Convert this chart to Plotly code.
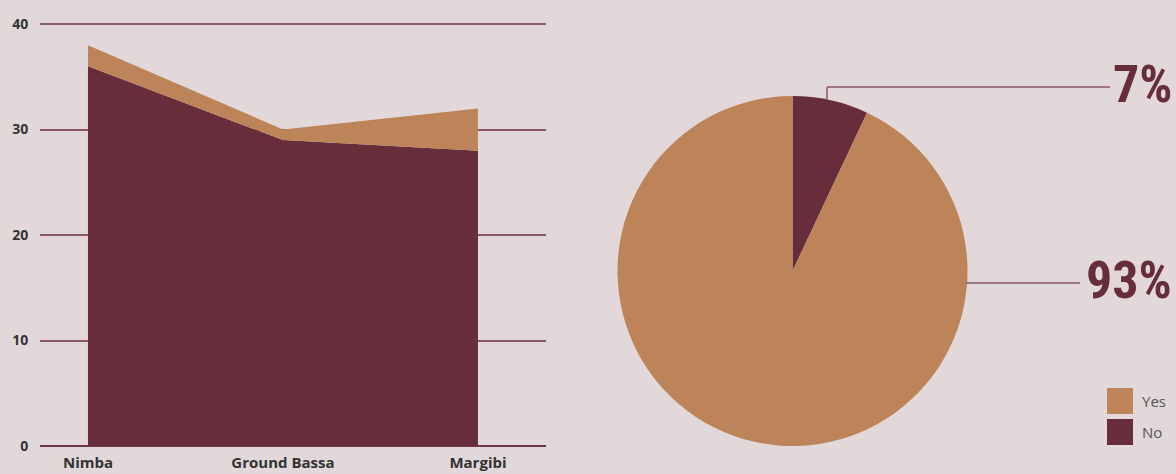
import plotly.graph_objects as go

counties = ["Nimba", "Ground Bassa", "Margibi"]
no_vals = [36, 29, 28]
yes_vals = [2, 1, 4]
pie_labels = ["No", "Yes"]
pie_values = [7, 93]
y_ticks = [0, 10, 20, 30, 40]

BG = "#e2d8da"
MAROON = "#672d3b"
TAN = "#bc8458"
GRID = "#8a5868"

W, H = 1176, 474
def px(x):
    return x / W
def py(y):
    return 1 - y / H

fig = go.Figure()
xpos = list(range(len(counties)))
fig.add_trace(go.Scatter(x=xpos, y=no_vals, name="No", stackgroup="s", mode="lines",
                         line=dict(width=0, color=MAROON), fillcolor=MAROON, showlegend=False,
                         hoverinfo="skip"))
fig.add_trace(go.Scatter(x=xpos, y=yes_vals, name="Yes", stackgroup="s", mode="lines",
                         line=dict(width=0, color=TAN), fillcolor=TAN, showlegend=False,
                         hoverinfo="skip"))

fig.add_trace(go.Pie(labels=pie_labels, values=pie_values, sort=False, direction="clockwise",
                     rotation=0, marker=dict(colors=[MAROON, TAN], line=dict(width=0)),
                     textinfo="none", showlegend=False,
                     domain=dict(x=[px(617), px(968)], y=[py(446), py(96)])))

fig.update_layout(
    width=W, height=H,
    paper_bgcolor=BG, plot_bgcolor=BG,
    margin=dict(l=0, r=0, t=0, b=0, autoexpand=False),
    xaxis=dict(domain=[px(40), px(546)], range=[-0.246, 2.349], tickvals=xpos, ticktext=counties,
               automargin=False,
               showgrid=False, zeroline=False, showline=False, ticks="outside", ticklen=3,
               tickcolor="rgba(0,0,0,0)",
               tickfont=dict(family="Open Sans", size=15, color="#333333", weight="bold")),
    yaxis=dict(domain=[py(446), py(23)], range=[0, 40.1], tickvals=y_ticks, automargin=False,
               showgrid=True, gridcolor=GRID, gridwidth=1.5, zeroline=True,
               zerolinecolor="#6e3445", zerolinewidth=1.5, showline=False, ticks="outside",
               ticklen=8, tickcolor="rgba(0,0,0,0)",
               tickfont=dict(family="Open Sans", size=14, color="#333333", weight="bold")),
    font=dict(family="Open Sans"),
)

# leader lines for pie labels
fig.add_shape(type="line", xref="paper", yref="paper", x0=px(827), y0=py(100), x1=px(827), y1=py(87),
              line=dict(color=GRID, width=1.5))
fig.add_shape(type="line", xref="paper", yref="paper", x0=px(827), y0=py(87), x1=px(1110), y1=py(87),
              line=dict(color=GRID, width=1.5))
fig.add_shape(type="line", xref="paper", yref="paper", x0=px(966), y0=py(283), x1=px(1080), y1=py(283),
              line=dict(color=GRID, width=1.5))

pct_font = dict(family="Roboto Condensed, Liberation Sans Narrow, DejaVu Sans Condensed, DejaVu Sans",
                size=52, color=MAROON, weight="bold")
fig.add_annotation(xref="paper", yref="paper", x=px(1174), y=py(84), text=f"{pie_values[0]}%",
                   showarrow=False, xanchor="right", yanchor="middle", font=pct_font)
fig.add_annotation(xref="paper", yref="paper", x=px(1174), y=py(280), text=f"{pie_values[1]}%",
                   showarrow=False, xanchor="right", yanchor="middle", font=pct_font)

# legend
for i, (lab, col) in enumerate([("Yes", TAN), ("No", MAROON)]):
    top = 388 + i * 31
    fig.add_shape(type="rect", xref="paper", yref="paper", x0=px(1107), x1=px(1133),
                  y0=py(top + 26), y1=py(top), fillcolor=col, line=dict(width=0))
    fig.add_annotation(xref="paper", yref="paper", x=px(1140), y=py(top + 13), text=lab,
                       showarrow=False, xanchor="left", yanchor="middle",
                       font=dict(family="Open Sans", size=15, color="#555555"))

fig.write_html("out.html", config={"displayModeBar": False},
               post_script="document.body.style.margin='0';document.body.style.overflow='hidden';")
